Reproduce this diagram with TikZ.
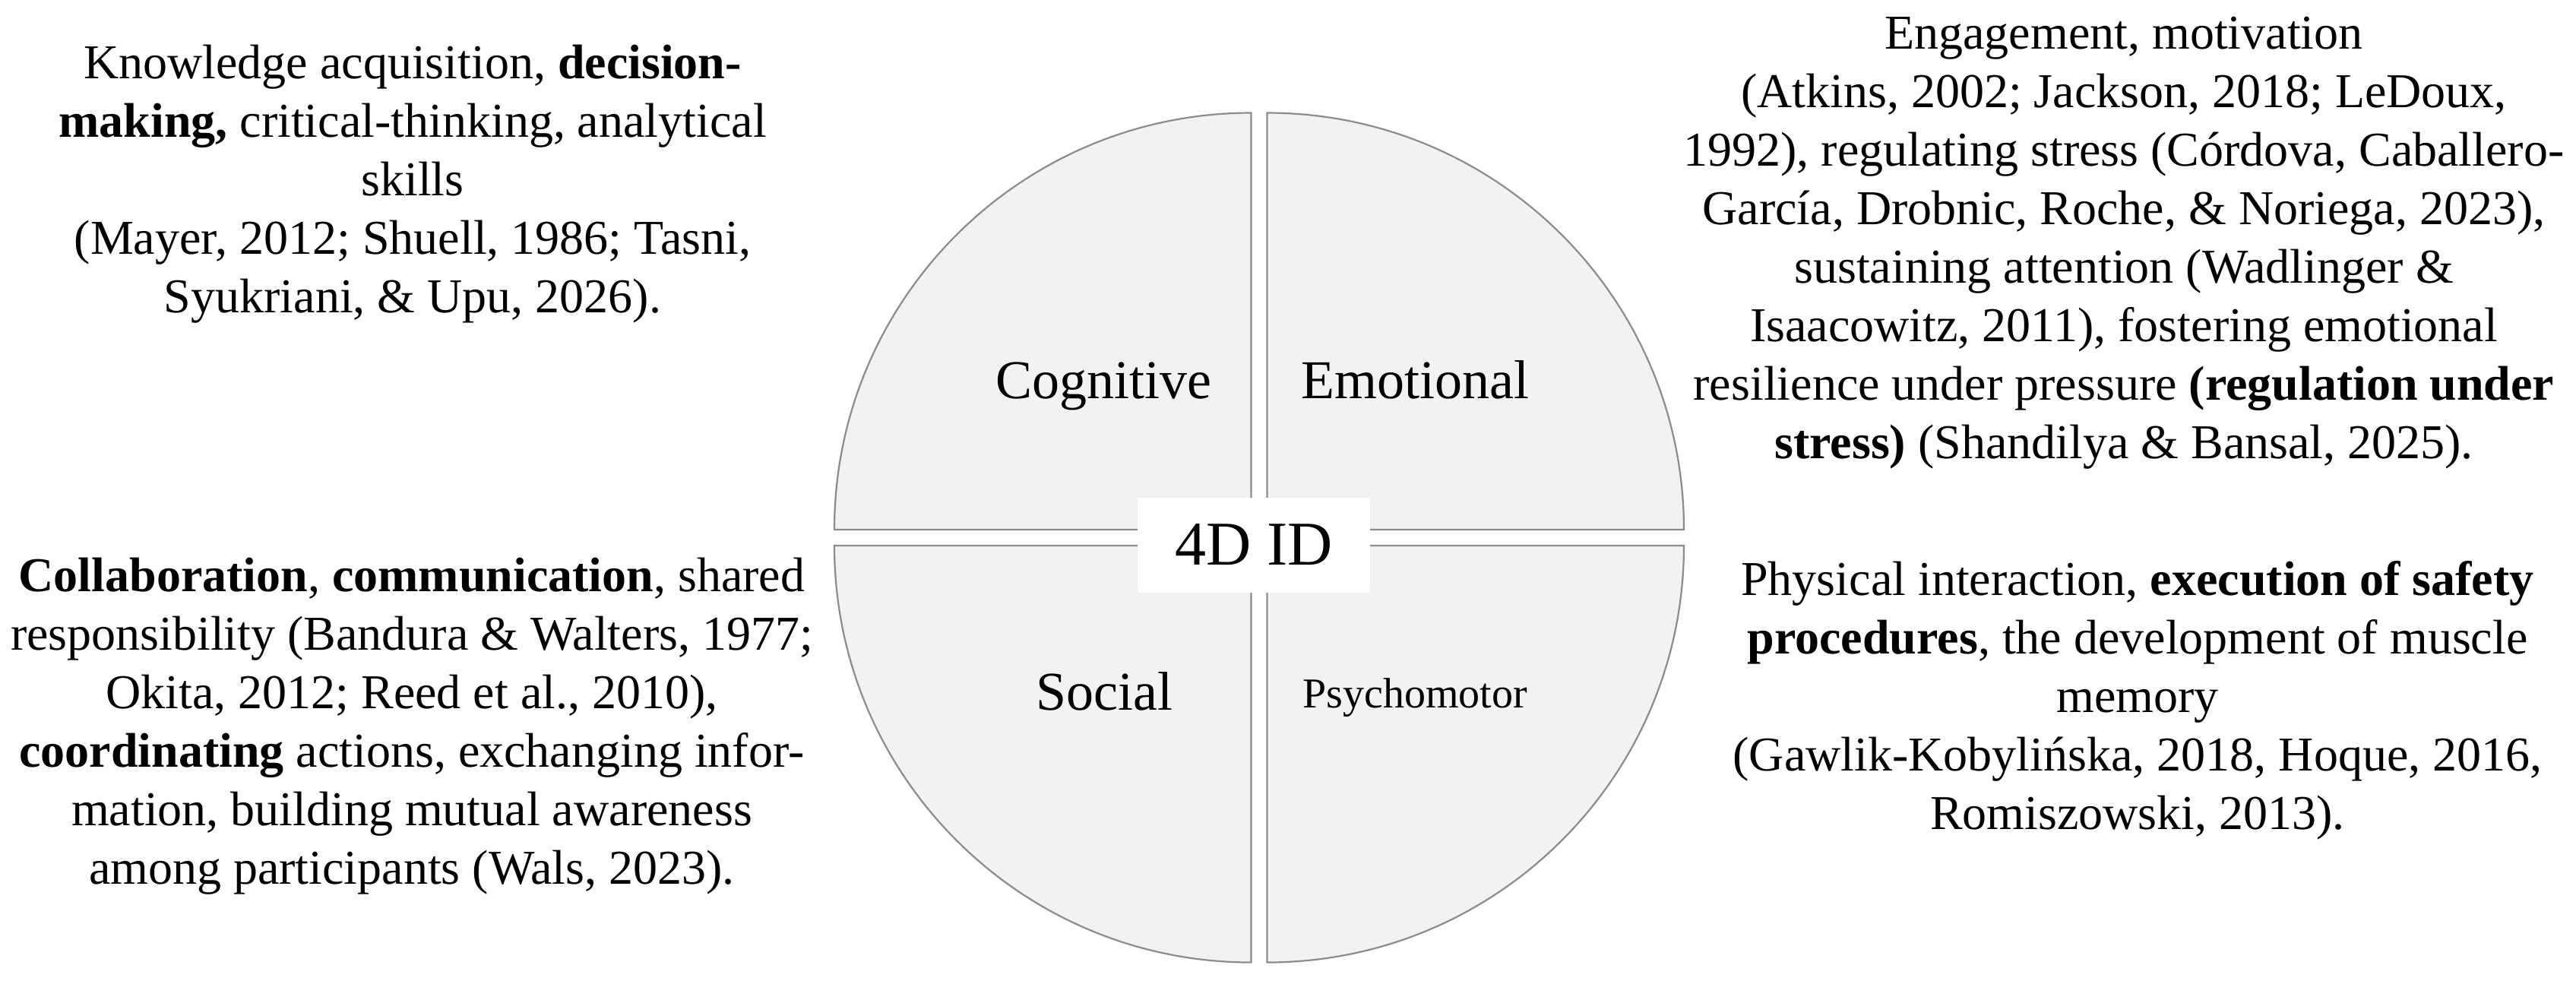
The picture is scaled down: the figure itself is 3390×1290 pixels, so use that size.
\documentclass[tikz,border=0pt]{standalone}
\usepackage{fontspec}
\setmainfont{Liberation Serif}
\definecolor{quadfill}{HTML}{F2F2F2}
\definecolor{quadline}{HTML}{8C8C8C}
\begin{document}
\begin{tikzpicture}[x=0.25pt,y=-0.25pt,
  quad/.style={fill=quadfill,draw=quadline,line width=0.55pt,line join=miter},
  dimlabel/.style={anchor=base,inner sep=0pt,font=\fontsize{18}{21.6}\selectfont},
  desc/.style={anchor=base,inner sep=0pt,align=center,font=\fontsize{16}{19.25}\selectfont},
  hub/.style={fill=white,inner sep=0pt,minimum width=76.5pt,minimum height=31.25pt,font=\fontsize{20.5}{24}\selectfont}
]
\fill[white] (0,0) rectangle (3390,1290);
\useasboundingbox (0,0) rectangle (3390,1290);

% quadrants
\draw[quad] (1646.5,697) -- ++(-548.5,0) arc[start angle=180,end angle=270,radius=548.5] -- cycle;
\draw[quad] (1667.5,697) -- ++(548.5,0) arc[start angle=0,end angle=-90,radius=548.5] -- cycle;
\draw[quad] (1646.5,718) -- ++(-548.5,0) arc[start angle=180,end angle=90,radius=548.5] -- cycle;
\draw[quad] (1667.5,718) -- ++(548.5,0) arc[start angle=0,end angle=90,radius=548.5] -- cycle;

% quadrant labels
\node[dimlabel] (cog) at (1452,524) {Cognitive};
\node[dimlabel] (emo) at (1862,524) {Emotional};
\node[dimlabel] (soc) at (1453,934) {Social};
\node[dimlabel,font=\fontsize{14}{16.8}\selectfont] (psy) at (1862,931) {Psychomotor};

% centre
\node[hub] (id) at (1650,717) {4D ID};

% descriptions (anchor = baseline of last line)
\node[desc] (tl) at (543,411) {Knowledge acquisition, \textbf{decision-}\\
\textbf{making,} critical-thinking, analytical\\
skills\\
(Mayer, 2012; Shuell, 1986; Tasni,\\
Syukriani, \& Upu, 2026).};

\node[desc] (tr) at (2795,603) {Engagement, motivation\\
(Atkins, 2002; Jackson, 2018; LeDoux,\\
1992), regulating stress (Córdova, Caballero-\\
García, Drobnic, Roche, \& Noriega, 2023),\\
sustaining attention (Wadlinger \&\\
Isaacowitz, 2011), fostering emotional\\
resilience under pressure \textbf{(regulation under}\\
\textbf{stress)} (Shandilya \& Bansal, 2025).};

\node[desc] (bl) at (542,1163) {\textbf{Collaboration}, \textbf{communication}, shared\\
responsibility (Bandura \& Walters, 1977;\\
Okita, 2012; Reed et al., 2010),\\
\textbf{coordinating} actions, exchanging infor-\\
mation, building mutual awareness\\
among participants (Wals, 2023).};

\node[desc] (br) at (2813,1091) {Physical interaction, \textbf{execution of safety}\\
\textbf{procedures}, the development of muscle\\
memory\\
(Gawlik-Kobylińska, 2018, Hoque, 2016,\\
Romiszowski, 2013).};
\end{tikzpicture}
\end{document}
